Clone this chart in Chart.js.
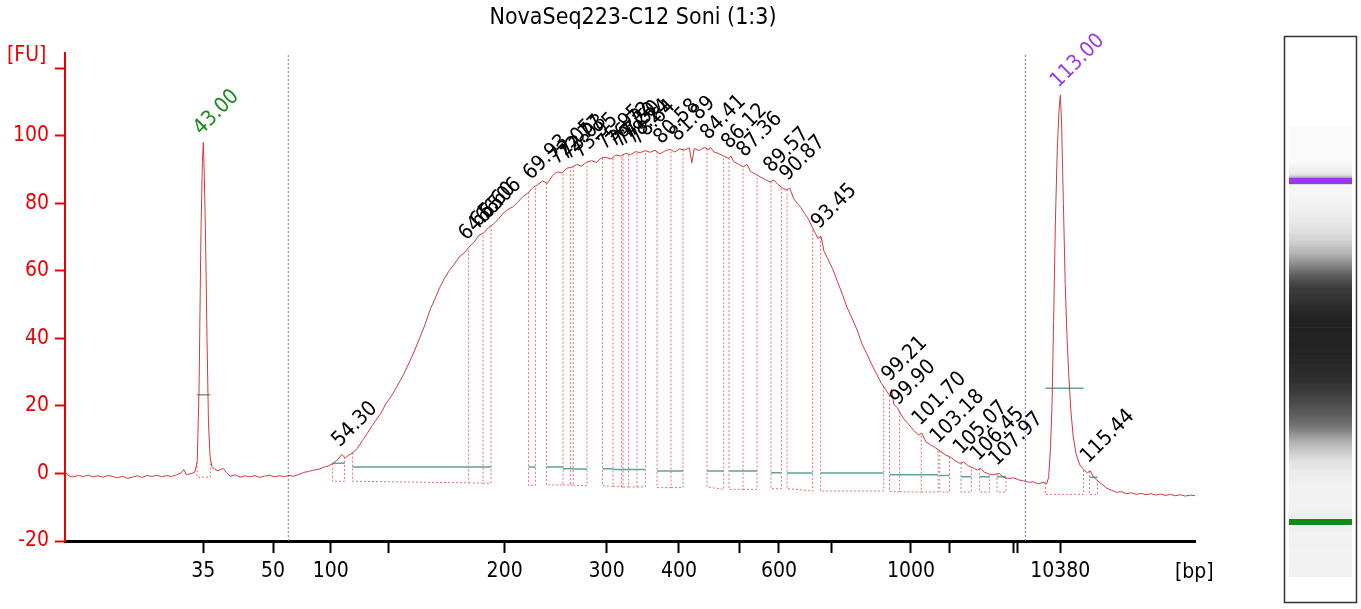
<!DOCTYPE html>
<html lang="en">
<head>
<meta charset="UTF-8">
<title>NovaSeq223-C12 Soni (1:3)</title>
<script src="https://cdn.jsdelivr.net/npm/chart.js@4.4.1/dist/chart.umd.min.js"></script>
<style>
    html, body { margin: 0; padding: 0; background: #fff; }
    #wrap { width: 1361px; height: 609px; }
</style>
</head>
<body>
<div id="wrap"><canvas id="chart" width="1361" height="609"></canvas></div>
<script>
const FONT = '"DejaVu Sans Condensed", "DejaVu Sans", sans-serif';
const TITLE = 'NovaSeq223-C12 Soni (1:3)';

// electropherogram trace: migration time [s] -> fluorescence [FU]
const traceTime = [
    31.7, 32.0, 32.4, 32.8, 33.2, 33.6, 34.0, 34.4, 34.8, 35.2,
    35.6, 36.0, 36.4, 36.8, 37.2, 37.6, 38.0, 38.4, 38.8, 39.2,
    39.6, 40.0, 40.4, 40.8, 41.2, 41.4, 41.6, 42.0, 42.3, 42.5,
    42.65, 42.8, 42.92, 43.0, 43.08, 43.18, 43.3, 43.42, 43.55, 43.7,
    43.9, 44.2, 44.6, 44.9, 45.2, 45.6, 46.0, 46.4, 46.8, 47.2,
    47.6, 48.0, 48.4, 48.8, 49.2, 49.6, 50.0, 50.4, 50.8, 51.2,
    51.6, 52.0, 52.4, 52.8, 53.2, 53.6, 54.0, 54.3, 54.6, 54.9,
    55.25, 55.6, 56.0, 56.4, 56.8, 57.2, 57.5, 57.9, 58.3, 58.7,
    59.1, 59.5, 59.9, 60.3, 60.7, 61.1, 61.5, 61.9, 62.3, 62.7,
    63.1, 63.5, 63.9, 64.3, 64.7, 65.1, 65.5, 65.9, 66.3, 66.7,
    67.1, 67.5, 67.9, 68.3, 68.7, 69.1, 69.5, 69.9, 70.3, 70.7,
    71.1, 71.5, 71.9, 72.3, 72.7, 73.1, 73.5, 73.9, 74.3, 74.7,
    75.1, 75.5, 75.9, 76.3, 76.7, 77.1, 77.5, 77.9, 78.3, 78.7,
    79.1, 79.5, 79.9, 80.3, 80.7, 81.1, 81.5, 81.9, 82.3, 82.7,
    82.9, 83.1, 83.5, 83.9, 84.3, 84.4, 84.7, 85.1, 85.5, 85.9,
    86.1, 86.3, 86.7, 87.1, 87.4, 87.7, 88.1, 88.5, 88.9, 89.3,
    89.6, 89.9, 90.3, 90.6, 90.9, 91.2, 91.5, 91.8, 92.1, 92.4,
    92.7, 93.0, 93.2, 93.45, 93.7, 94.0, 94.4, 94.8, 95.2, 95.6,
    96.0, 96.4, 96.8, 97.2, 97.6, 98.0, 98.4, 98.8, 99.1, 99.21,
    99.4, 99.7, 99.9, 100.2, 100.6, 101.0, 101.4, 101.7, 102.0, 102.4,
    102.8, 103.2, 103.6, 104.0, 104.4, 104.8, 105.1, 105.5, 105.9, 106.2,
    106.45, 106.8, 107.2, 107.6, 108.0, 108.4, 108.8, 109.2, 109.6, 110.0,
    110.4, 110.8, 111.2, 111.6, 111.9, 112.05, 112.2, 112.32, 112.45, 112.6,
    112.75, 112.9, 113.0, 113.1, 113.25, 113.4, 113.55, 113.68, 113.85, 114.05,
    114.3, 114.6, 114.9, 115.2, 115.44, 115.7, 116.0, 116.4, 116.8, 117.2,
    117.6, 118.0, 118.4, 118.8, 119.2, 119.6, 120.0, 120.4, 120.8, 121.2,
    121.6, 122.0, 122.4, 122.8, 123.2, 123.6, 124.0
];
const traceFU = [
    0.6, -0.7, -1.0, -0.6, -0.9, -0.5, -1.0, -0.7, -1.1, -0.6,
    -0.9, -1.3, -0.8, -1.5, -1.1, -0.7, -1.2, -0.6, -0.9, -0.5,
    -1.0, -0.6, -0.9, -0.4, 0.2, 1.2, -0.3, -0.1, 0.4, 3.5,
    25, 70, 92, 98, 88, 70, 40, 15, 5, 2,
    1.3, 0.8, 1.5, 0.2, -0.8, -0.4, -1.1, -0.7, -1.0, -0.6,
    -1.2, -0.8, -0.5, -1.0, -0.7, -0.9, -0.6, -0.8, -0.3, 0.3,
    0.6, 1.0, 1.2, 1.8, 2.2, 3.0, 4.2, 5.6, 4.6, 5.5,
    6.3, 7.5, 9.8, 11.9, 14.2, 16.3, 17.8, 20.6, 22.6, 25.0,
    27.6, 30.4, 33.5, 36.8, 40.4, 44.0, 48.3, 51.6, 55.0, 57.8,
    60.1, 62.0, 64.1, 65.3, 67.0, 68.4, 70.5, 71.2, 72.8, 73.9,
    75.3, 77.1, 78.2, 79.0, 80.4, 82.0, 83.0, 84.6, 85.5, 86.6,
    85.9, 88.1, 89.3, 89.0, 90.4, 90.7, 91.5, 91.0, 92.2, 92.6,
    92.1, 93.4, 93.6, 93.1, 94.3, 94.0, 94.8, 94.4, 95.3, 95.0,
    95.6, 95.1, 95.7, 94.6, 95.5, 96.0, 95.2, 96.1, 95.8, 96.4,
    92.0, 96.2, 95.6, 96.5, 95.9, 96.6, 95.2, 94.7, 94.0, 93.3,
    94.0, 92.4, 91.6, 90.8, 91.5, 89.4, 88.6, 87.8, 87.0, 86.3,
    86.9, 85.7, 84.6, 83.9, 84.5, 81.5, 80.0, 78.8, 77.0, 75.5,
    73.2, 71.0, 69.6, 70.2, 65.8, 63.6, 60.6, 56.8, 53.0, 49.0,
    45.8, 42.5, 38.3, 35.4, 32.2, 29.4, 26.6, 24.5, 22.8, 25.0,
    20.4, 19.4, 18.0, 16.2, 14.6, 12.8, 11.5, 11.9, 9.4, 8.5,
    7.6, 6.6, 5.5, 4.9, 3.8, 3.0, 3.4, 2.2, 1.6, 1.0,
    1.5, 0.4, -0.2, -0.3, 0.0, -1.2, -1.5, -1.3, -1.9, -2.2,
    -2.6, -2.5, -3.1, -2.6, -3.0, -1.0, 8, 20, 45, 75,
    96, 108, 112, 104, 80, 56, 40, 30, 19, 11,
    5.5, 2.5, 1.2, 0.2, 0.8, -1.0, -2.0, -3.2, -4.4, -5.0,
    -5.6, -5.4, -6.0, -5.7, -6.2, -5.9, -6.3, -6.0, -6.4, -6.1,
    -6.5, -6.2, -6.6, -6.3, -6.7, -6.4, -6.6
];

// sizing ladder: bp size and its position on the time axis
const ladderBp   = [35, 50, 100, 150, 200, 300, 400, 500, 600, 700, 1000, 2000, 3000, 7000, 10380];
const ladderTime = [43.0, 48.69, 53.40, 58.13, 67.61, 75.94, 81.85, 86.76, 90.02, 94.27, 100.80, 103.91, 109.19, 109.47, 113.0];
const ladderShown = [35, 50, 100, 200, 300, 400, 600, 1000, 10380];
const yTicks = [-20, 0, 20, 40, 60, 80, 100, 120];

// called peaks: apex time, start/end time, baseline level, floor at start/end
const peakTime  = [43.00, 54.30, 64.65, 65.60, 66.06, 69.93, 72.05, 72.77, 73.03, 73.95, 75.95, 76.72, 77.20, 77.50, 78.24, 78.64, 80.58, 81.89, 84.41, 86.12, 87.36, 89.57, 90.87, 93.45, 99.21, 99.90, 101.70, 103.18, 105.07, 106.45, 107.97, 113.00, 115.44];
const peakStart = [42.49, 53.56, 55.19, 64.67, 65.85, 69.57, 71.02, 72.38, 72.98, 73.20, 75.61, 76.46, 77.14, 77.28, 77.74, 78.42, 80.06, 81.20, 84.14, 85.94, 87.08, 89.37, 90.68, 93.42, 99.05, 99.87, 101.64, 103.15, 104.89, 106.41, 107.83, 111.77, 115.39];
const peakEnd   = [43.57, 54.54, 64.67, 65.85, 66.50, 70.12, 72.38, 72.98, 73.20, 74.34, 76.46, 77.14, 77.28, 77.74, 78.42, 79.10, 81.20, 82.18, 85.50, 87.08, 88.23, 90.21, 92.77, 98.57, 99.87, 101.64, 103.01, 103.95, 105.73, 107.22, 108.56, 114.90, 116.04];
const peakBase  = [23.3, 3.0, 1.9, 1.9, 1.9, 1.9, 1.9, 1.4, 1.4, 1.3, 1.4, 1.2, 1.2, 1.2, 1.2, 1.2, 0.7, 0.7, 0.7, 0.7, 0.7, 0.2, 0.1, 0.1, -0.4, -0.4, -0.4, -0.6, -1.0, -1.0, -1.0, 25.2, -1.1];
const peakFloorL = [-1.1, -2.3, -2.3, -2.8, -2.9, -3.6, -3.4, -3.4, -3.4, -3.5, -3.6, -3.8, -4.0, -4.0, -4.0, -4.0, -4.2, -4.2, -4.0, -4.7, -4.7, -4.5, -4.5, -5.2, -5.3, -5.4, -5.5, -5.5, -5.5, -5.5, -5.5, -6.2, -6.2];
const peakFloorR = [-1.1, -2.3, -2.8, -2.9, -2.9, -3.6, -3.4, -3.4, -3.5, -3.6, -3.8, -4.0, -4.0, -4.0, -4.0, -4.0, -4.2, -4.2, -4.7, -4.7, -4.7, -4.5, -5.2, -5.2, -5.4, -5.5, -5.5, -5.5, -5.5, -5.5, -5.5, -6.2, -6.2];

// lower / upper markers and the analysis window
const markerTime  = [43.0, 113.0];
const markerColor = ['#17891b', '#9d36f2'];
const windowTime  = [49.94, 110.14];

function fuAt(t) {
    if (t <= traceTime[0]) return traceFU[0];
    for (let i = 1; i < traceTime.length; i++) {
        if (t <= traceTime[i]) {
            const f = (t - traceTime[i - 1]) / (traceTime[i] - traceTime[i - 1]);
            return traceFU[i - 1] + f * (traceFU[i] - traceFU[i - 1]);
        }
    }
    return traceFU[traceFU.length - 1];
}

// build the helper line datasets
const tracePts = traceTime.map((t, i) => ({x: t, y: traceFU[i]}));
const boxPts = [];
const basePts = [];
peakTime.forEach((p, i) => {
    const s = peakStart[i], e = peakEnd[i];
    // a boundary shared with the previous peak is drawn only once
    if (i === 0 || peakEnd[i - 1] !== s) boxPts.push({x: s, y: fuAt(s)});
    boxPts.push({x: s, y: peakFloorL[i]}, {x: e, y: peakFloorR[i]}, {x: e, y: fuAt(e)}, {x: e, y: null});
    basePts.push({x: s, y: peakBase[i]}, {x: e, y: peakBase[i]}, {x: e, y: null});
});
const windowPts = [];
windowTime.forEach(t => windowPts.push({x: t, y: -20}, {x: t, y: 124.5}, {x: t, y: null}));

const overlay = {
    id: 'overlay',
    afterDatasetsDraw(chart) {
        const {ctx, scales: {x, y}} = chart;
        ctx.save();
        ctx.font = '21px ' + FONT;
        ctx.textAlign = 'left';
        ctx.textBaseline = 'alphabetic';
        peakTime.forEach(t => {
            const px = x.getPixelForValue(t);
            const py = y.getPixelForValue(fuAt(t));
            const m = markerTime.indexOf(t);
            ctx.save();
            ctx.translate(px - 2, py - 7);
            ctx.rotate(-Math.PI / 4);
            ctx.fillStyle = m >= 0 ? markerColor[m] : '#000';
            ctx.fillText(t.toFixed(2), 0, 0);
            ctx.restore();
        });
        ctx.restore();
    },
    afterDraw(chart) {
        const {ctx, chartArea, scales: {x}} = chart;
        ctx.save();
        // title and axis units
        ctx.textBaseline = 'middle';
        ctx.font = '23px ' + FONT;
        ctx.fillStyle = '#000';
        ctx.textAlign = 'center';
        ctx.fillText(TITLE, (chartArea.left + chartArea.right) / 2 + 3, 18);
        ctx.font = '21px ' + FONT;
        ctx.textAlign = 'left';
        ctx.fillText('[bp]', 1175, 573);
        ctx.fillStyle = '#ee0000';
        ctx.fillText('[FU]', 7, 56);

        // gel-like lane built from the trace
        const lane = {left: 1289, right: 1352, top: 127, bottom: 577};
        const h = lane.bottom - lane.top;
        for (let py = lane.top; py < lane.bottom; py++) {
            const t = x.max - (py + 0.5 - lane.top) / h * (x.max - x.min);
            const g = Math.round(Math.max(32, Math.min(250, 240 - 2.15 * fuAt(t))));
            ctx.fillStyle = `rgb(${g},${g},${g})`;
            ctx.fillRect(lane.left, py, lane.right - lane.left, 1);
        }
        markerTime.forEach((t, i) => {
            const py = lane.top + (x.max - t) / (x.max - x.min) * h;
            ctx.fillStyle = markerColor[i];
            ctx.fillRect(lane.left, Math.round(py) - 3, lane.right - lane.left, 6);
        });
        ctx.strokeStyle = '#333';
        ctx.lineWidth = 1.5;
        ctx.strokeRect(1284.5, 36.5, 72, 566);
        ctx.restore();
    }
};

new Chart(document.getElementById('chart'), {
    type: 'line',
    data: {
        datasets: [
            {data: tracePts, borderColor: '#d23a3a', borderWidth: 1},
            {data: basePts, borderColor: '#5aa698', borderWidth: 1.5},
            {data: boxPts, borderColor: '#e56f6f', borderWidth: 1, borderDash: [2, 2]},
            {data: windowPts, borderColor: '#7373d2', borderWidth: 1, borderDash: [2, 2]}
        ]
    },
    options: {
        responsive: false,
        devicePixelRatio: 1,
        animation: false,
        events: [],
        elements: {point: {radius: 0}, line: {tension: 0}},
        layout: {padding: {top: 53, right: 166, left: 0, bottom: 0}},
        plugins: {legend: {display: false}, tooltip: {enabled: false}, title: {display: false}},
        scales: {
            x: {
                type: 'linear',
                min: 31.7,
                max: 124,
                afterBuildTicks: s => { s.ticks = ladderTime.map(v => ({value: v})); },
                afterFit: s => { s.height = 68; },
                grid: {drawOnChartArea: false, drawTicks: true, tickLength: 12, tickColor: '#000', tickWidth: 2},
                border: {color: '#000', width: 3},
                ticks: {
                    autoSkip: false, maxRotation: 0, color: '#000', padding: 6,
                    font: {size: 21, family: FONT},
                    callback: (v, i) => ladderShown.includes(ladderBp[i]) ? String(ladderBp[i]) : ''
                }
            },
            y: {
                min: -20,
                max: 124.5,
                afterBuildTicks: s => { s.ticks = yTicks.map(v => ({value: v})); },
                afterFit: s => { s.width = 65; },
                grid: {drawOnChartArea: false, drawTicks: true, tickLength: 10, tickColor: '#ee0000', tickWidth: 2},
                border: {color: '#ee0000', width: 2},
                ticks: {
                    color: '#ee0000', padding: 6,
                    font: {size: 21, family: FONT},
                    callback: v => v === 120 ? '' : String(v)
                }
            }
        }
    },
    plugins: [overlay]
});
</script>
</body>
</html>
